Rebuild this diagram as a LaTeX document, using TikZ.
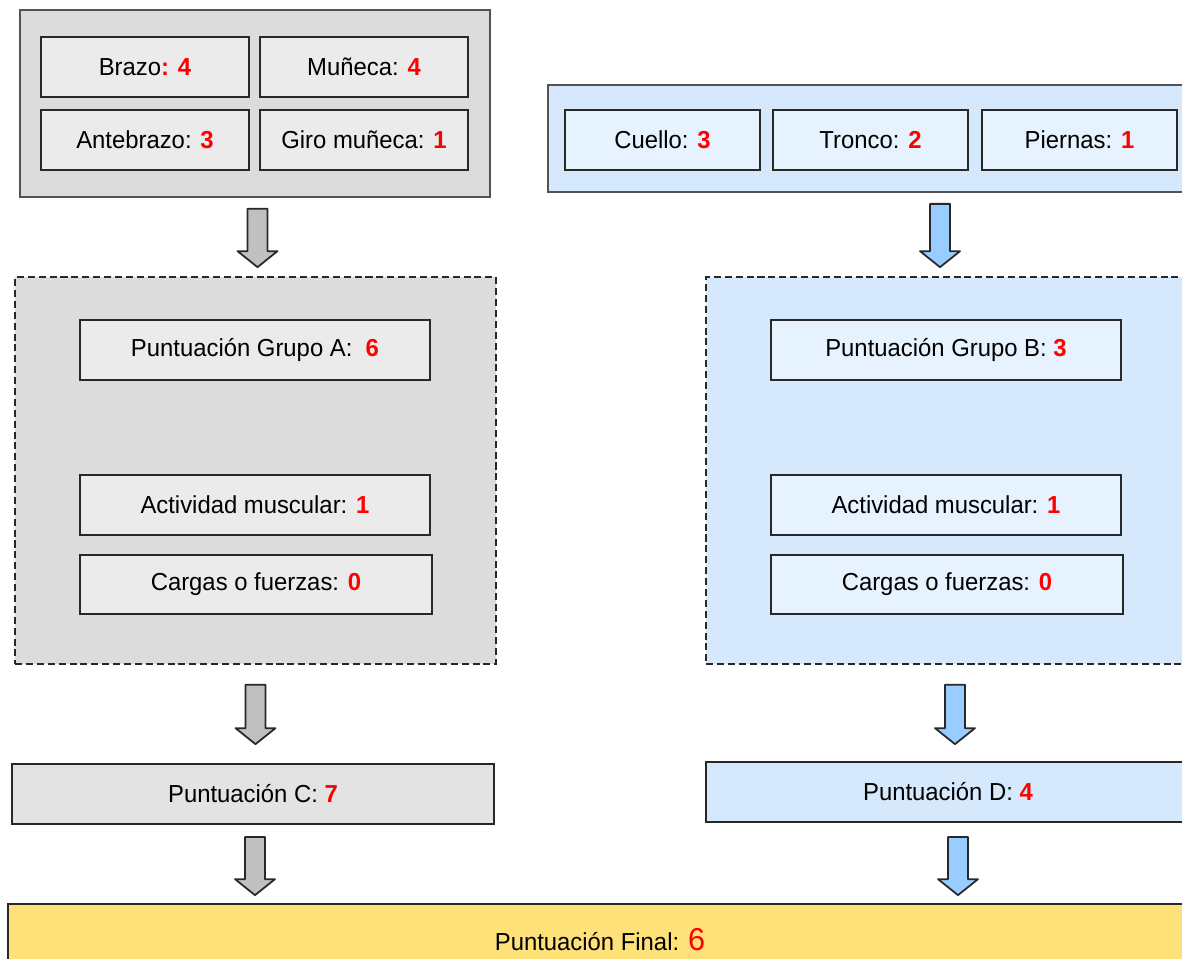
\documentclass[tikz,border=0pt]{standalone}
\usepackage{fontspec}
\setmainfont{Liberation Sans}[FakeStretch=0.97]
\usetikzlibrary{calc}
\definecolor{grisext}{RGB}{220,220,220}
\definecolor{grisint}{RGB}{235,235,235}
\definecolor{grisflecha}{RGB}{192,192,192}
\definecolor{azulext}{RGB}{214,233,252}
\definecolor{azulint}{RGB}{230,242,253}
\definecolor{azulflecha}{RGB}{153,204,255}
\definecolor{amarillo}{RGB}{255,225,122}
\definecolor{borde}{RGB}{40,40,40}
\newcommand{\pts}[1]{\textcolor{red}{\textbf{#1}}}
% flecha gruesa de (#2) a (#3), relleno #1
\newcommand{\bigarrow}[3]{%
  \draw[borde,line width=1pt,line join=round,fill=#1] let \p1=(#2), \p2=(#3) in
    (\x1-0.2cm,\y1) -- (\x1+0.2cm,\y1) -- (\x1+0.2cm,\y2+0.32cm) -- (\x1+0.4cm,\y2+0.32cm)
    -- (\x1,\y2) -- (\x1-0.4cm,\y2+0.32cm) -- (\x1-0.2cm,\y2+0.32cm) -- cycle;}

\begin{document}
\begin{tikzpicture}[x=0.02cm,y=-0.02cm,
  caja/.style={draw=borde,line width=1pt,rectangle,inner sep=0pt,
    font=\fontsize{14}{16}\selectfont},
  grupo/.style={caja,draw=borde!80},
  trazos/.style={caja,dash pattern=on 4pt off 2.2pt}]
  \clip (0,0) rectangle (1182,958);

  % grupo A
  \node[grupo,fill=grisext,minimum width=9.4cm,minimum height=3.74cm] (grpA) at (255,103.5) {};
  \node[caja,fill=grisint,minimum width=4.16cm,minimum height=1.2cm] (brazo) at (145,67) {Brazo\pts{: 4}};
  \node[caja,fill=grisint,minimum width=4.16cm,minimum height=1.2cm] (muneca) at (364,67) {Muñeca: \pts{4}};
  \node[caja,fill=grisint,minimum width=4.16cm,minimum height=1.2cm] (antebrazo) at (145,140) {Antebrazo: \pts{3}};
  \node[caja,fill=grisint,minimum width=4.16cm,minimum height=1.2cm] (giro) at (364,140) {Giro muñeca: \pts{1}};

  % grupo B
  \node[grupo,fill=azulext,minimum width=13.04cm,minimum height=2.14cm] (grpB) at (874,138.5) {};
  \node[caja,fill=azulint,minimum width=3.9cm,minimum height=1.2cm] (cuello) at (662.5,140) {Cuello: \pts{3}};
  \node[caja,fill=azulint,minimum width=3.9cm,minimum height=1.2cm] (tronco) at (870.5,140) {Tronco: \pts{2}};
  \node[caja,fill=azulint,minimum width=3.9cm,minimum height=1.2cm] (piernas) at (1079.5,140) {Piernas: \pts{1}};

  % cajas discontinuas
  \node[trazos,fill=grisext,minimum width=9.62cm,minimum height=7.74cm] (dashA) at (255.5,470.5) {};
  \node[caja,fill=grisint,minimum width=7cm,minimum height=1.2cm] (puntA) at (255,350) {Puntuación Grupo A: \ \pts{6}};
  \node[caja,fill=grisint,minimum width=7cm,minimum height=1.2cm] (actA) at (255,505) {Actividad muscular: \pts{1}};
  \node[caja,fill=grisint,minimum width=7.04cm,minimum height=1.18cm] (cargA) at (256,584.5) {Cargas o fuerzas: \pts{0}};

  \node[trazos,fill=azulext,minimum width=9.68cm,minimum height=7.74cm] (dashB) at (948,470.5) {};
  \node[caja,fill=azulint,minimum width=7cm,minimum height=1.2cm] (puntB) at (946,350) {Puntuación Grupo B: \pts{3}};
  \node[caja,fill=azulint,minimum width=7cm,minimum height=1.2cm] (actB) at (946,505) {Actividad muscular: \pts{1}};
  \node[caja,fill=azulint,minimum width=7.04cm,minimum height=1.18cm] (cargB) at (947,584.5) {Cargas o fuerzas: \pts{0}};

  % puntuaciones C, D y final
  \node[caja,fill=grisext!80!white,minimum width=9.64cm,minimum height=1.2cm] (puntC) at (253,794) {Puntuación C: \pts{7}};
  \node[caja,fill=azulext,minimum width=9.68cm,minimum height=1.2cm] (puntD) at (948,792) {Puntuación D: \pts{4}};
  \node[caja,fill=amarillo,minimum width=23.68cm,minimum height=1.44cm] (final) at (600,940)
    {Puntuación Final: \textcolor{red}{\fontsize{18}{20}\selectfont 6}};

  % flechas
  \bigarrow{grisflecha}{$(grpA.south -| dashA.north)+(2,11)$}{$(dashA.north)+(2,-9)$}
  \bigarrow{azulflecha}{$(grpB.south -| dashB.north)+(-8,11)$}{$(dashB.north)+(-8,-9)$}
  \bigarrow{grisflecha}{$(dashA.south)+(0,20)$}{$(dashA.south |- puntC.north)+(0,-19)$}
  \bigarrow{azulflecha}{$(dashB.south)+(7,20)$}{$(dashB.south |- puntD.north)+(7,-17)$}
  \bigarrow{grisflecha}{$(puntC.south)+(2,12)$}{$(puntC.south |- final.north)+(2,-8)$}
  \bigarrow{azulflecha}{$(puntD.south)+(10,14)$}{$(puntD.south |- final.north)+(10,-8)$}
\end{tikzpicture}
\end{document}
